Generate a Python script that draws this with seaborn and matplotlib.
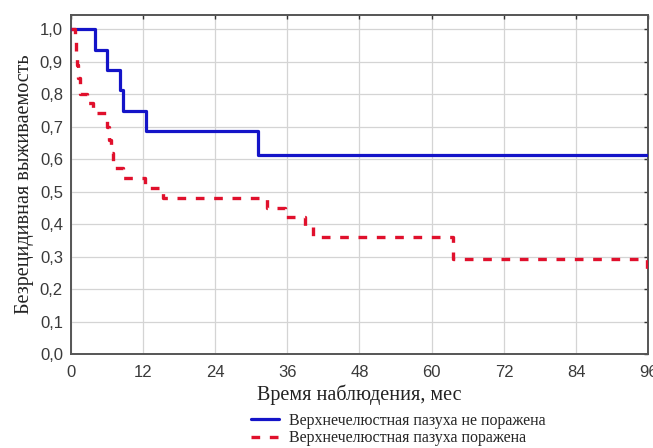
import numpy as np
import pandas as pd
import matplotlib
matplotlib.use("Agg")
import matplotlib.pyplot as plt
import seaborn as sns
from matplotlib.lines import Line2D

# ========== данные ==========
blue_time = [0, 4.0, 6.0, 8.2, 8.7, 12.6, 31.2, 96]
blue_surv = [1.0, 0.9375, 0.875, 0.8125, 0.75, 0.6875, 0.615, 0.615]

red_time = [0, 0.7, 0.9, 1.1, 1.3, 1.5, 2.7, 3.7, 6.0, 6.4, 6.7, 7.0,
            8.7, 12.3, 15.3, 32.6, 35.6, 38.9, 40.3, 63.5, 95.8]
red_surv = [1.0, 0.96, 0.93, 0.89, 0.85, 0.80, 0.772, 0.742, 0.70, 0.66, 0.62, 0.573,
            0.543, 0.512, 0.482, 0.449, 0.422, 0.393, 0.36, 0.292, 0.26]

group_names = ["Верхнечелюстная пазуха не поражена", "Верхнечелюстная пазуха поражена"]

x_ticks = [0, 12, 24, 36, 48, 60, 72, 84, 96]
y_ticks = [0.0, 0.1, 0.2, 0.3, 0.4, 0.5, 0.6, 0.7, 0.8, 0.9, 1.0]
y_tick_labels = ["0,0", "0,1", "0,2", "0,3", "0,4", "0,5", "0,6", "0,7", "0,8", "0,9", "1,0"]

x_label = "Время наблюдения, мес"
y_label = "Безрецидивная выживаемость"

BLUE = "#1414c8"
RED = "#e0102c"
DASH = (0, (2.6, 2.9))

df_blue = pd.DataFrame({"t": blue_time, "s": blue_surv})
df_red = pd.DataFrame({"t": red_time, "s": red_surv})

sns.set_theme(style="white")
plt.rcParams["font.family"] = ["Liberation Sans", "DejaVu Sans"]

fig = plt.figure(figsize=(6.53, 4.48), dpi=100)
ax = fig.add_axes([0.108, 0.209, 0.885, 0.758])

sns.lineplot(data=df_blue, x="t", y="s", ax=ax, color=BLUE, lw=2.3,
             drawstyle="steps-post", estimator=None, legend=False, zorder=3)
sns.lineplot(data=df_red, x="t", y="s", ax=ax, color=RED, lw=2.4,
             linestyle=DASH, drawstyle="steps-post",
             estimator=None, legend=False, zorder=3)

ax.set_xlim(0, 96)
ax.set_ylim(0, 1.045)
ax.set_xticks(x_ticks)
ax.set_xticklabels([str(v) for v in x_ticks])
ax.set_yticks(y_ticks)
ax.set_yticklabels(y_tick_labels)

ax.grid(True, color="#d4d4d4", lw=0.9)
ax.set_axisbelow(True)
for sp in ax.spines.values():
    sp.set_color("#555555")
    sp.set_linewidth(1.4)
ax.tick_params(direction="in", length=3, width=1, top=True, right=True,
               labelsize=12, colors="#333333")
ax.tick_params(axis="x", pad=8)
ax.tick_params(axis="y", pad=5.5)
ax.tick_params(axis="both", labelcolor="#3a3a3a")

ax.set_xlabel(x_label, family=["Liberation Serif"], fontsize=14.5, color="#222222", labelpad=3)
ax.set_ylabel(y_label, family=["Liberation Serif"], fontsize=14.5, color="#222222", labelpad=4)

handles = [Line2D([], [], color=BLUE, lw=2.3),
           Line2D([], [], color=RED, lw=2.4, linestyle=DASH)]
fig.legend(handles, group_names, loc="center left", bbox_to_anchor=(0.384, 0.041),
           frameon=False, handlelength=1.75, handletextpad=0.65, labelspacing=0.1,
           prop={"family": "Liberation Serif", "size": 11.5}, borderpad=0, borderaxespad=0)

fig.savefig("out.png", dpi=100)
